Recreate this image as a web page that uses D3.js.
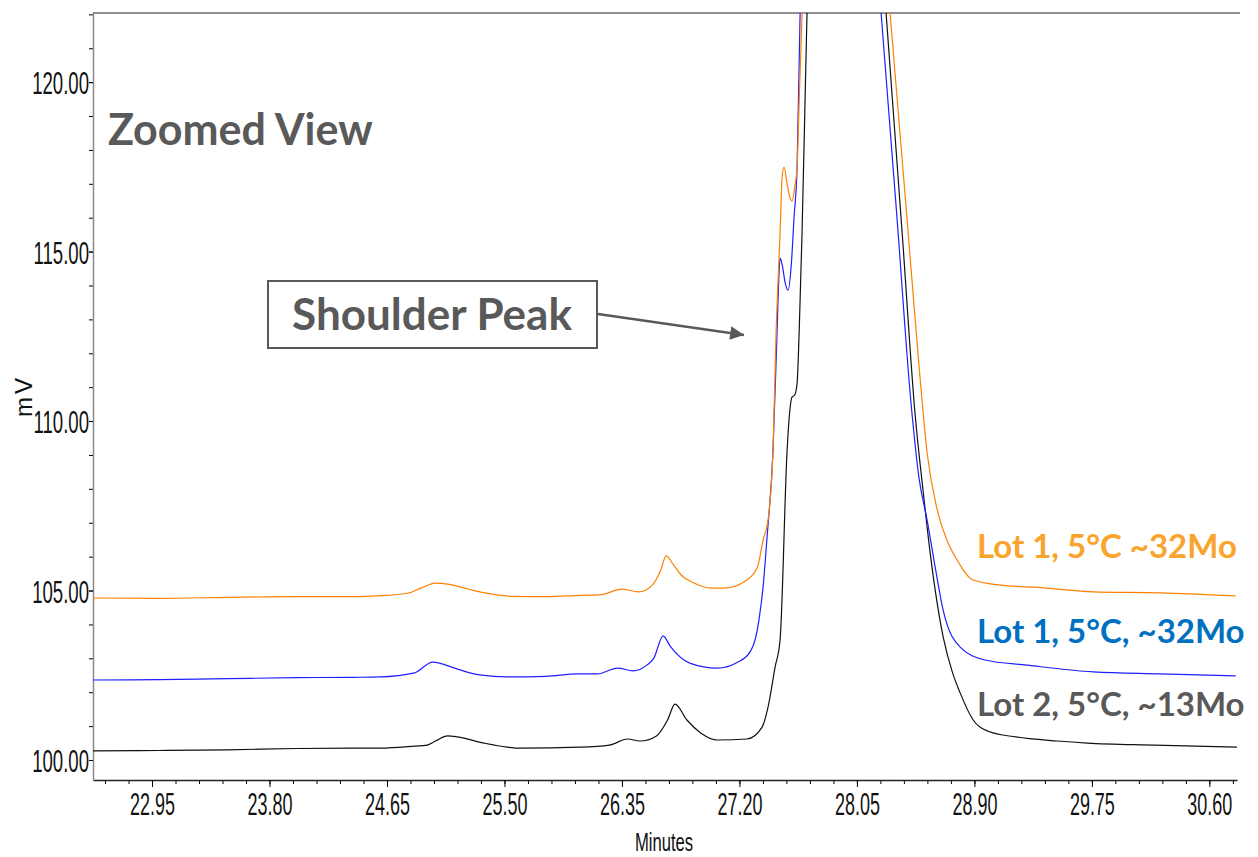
<!DOCTYPE html>
<html>
<head>
  <meta charset="UTF-8">
  <title>Zoomed View</title>
  <style>
    body { margin: 0; background: #fff; }
    svg { display: block; }
    .tick text { font-family: "Liberation Sans", Arial, sans-serif; }
  </style>
</head>
<body>
  <div class="svg-zone"></div>
  <script src="https://cdn.jsdelivr.net/npm/d3@7/dist/d3.min.js"></script>
  <script type="text/javascript">
  // time (min), signal (mV); main peak runs off scale
  var lot1Orange = [
    [22.52, 104.78], [23.00, 104.77], [23.50, 104.80], [24.00, 104.82], [24.40, 104.82],
    [24.60, 104.85], [24.80, 104.92], [24.90, 105.08], [25.00, 105.22], [25.10, 105.18],
    [25.25, 105.03], [25.40, 104.90], [25.55, 104.83], [25.80, 104.82], [26.05, 104.86],
    [26.20, 104.88], [26.35, 105.04], [26.47, 104.96], [26.57, 105.16], [26.63, 105.60],
    [26.67, 106.02], [26.72, 105.78], [26.78, 105.45], [26.87, 105.22], [27.00, 105.07],
    [27.11, 105.08], [27.23, 105.25], [27.33, 105.69], [27.371, 106.49], [27.407, 107.08],
    [27.443, 109.14], [27.465, 112.60], [27.494, 115.55], [27.509, 117.20], [27.523, 117.49],
    [27.545, 117.00], [27.565, 116.60], [27.581, 116.49], [27.60, 116.90], [27.617, 117.49],
    [27.635, 119.80], [27.653, 122.04], [27.68, 127], [27.75, 133], [27.95, 140],
    [28.15, 129.0], [28.29, 122.04], [28.41, 116.10], [28.50, 111.60], [28.56, 109.00],
    [28.63, 107.40], [28.70, 106.50], [28.775, 105.90], [28.89, 105.31],
    [29.09, 105.16], [29.33, 105.10], [29.76, 104.96], [30.24, 104.93], [30.79, 104.84]
  ];
  var lot1Blue = [
    [22.52, 102.36], [23.00, 102.37], [23.50, 102.40], [24.00, 102.43], [24.40, 102.44],
    [24.60, 102.45], [24.85, 102.57], [24.98, 102.89], [25.16, 102.68], [25.32, 102.51],
    [25.52, 102.45], [25.80, 102.47], [26.03, 102.54], [26.17, 102.54], [26.32, 102.71],
    [26.43, 102.63], [26.53, 102.80], [26.58, 103.00], [26.648, 103.66], [26.70, 103.35],
    [26.84, 102.86], [27.04, 102.71], [27.19, 102.89], [27.277, 103.19], [27.313, 103.54],
    [27.34, 104.10], [27.371, 105.10], [27.40, 106.58], [27.443, 109.14], [27.472, 112.60],
    [27.487, 114.40], [27.494, 114.81], [27.51, 114.60], [27.53, 114.10], [27.552, 113.86],
    [27.575, 114.60], [27.595, 116.00], [27.617, 117.49], [27.639, 122.04], [27.67, 127],
    [27.75, 133], [27.92, 140], [28.10, 128.7], [28.225, 122.04], [28.34, 116.00],
    [28.44, 110.60], [28.50, 108.30], [28.558, 107.08], [28.62, 105.60],
    [28.674, 104.42], [28.797, 103.33], [28.977, 102.95], [29.281, 102.80], [29.759, 102.60],
    [30.244, 102.54], [30.79, 102.48]
  ];
  var lot2Black = [
    [22.52, 100.27], [23.00, 100.28], [23.50, 100.30], [24.00, 100.34], [24.40, 100.35],
    [24.60, 100.35], [24.85, 100.41], [24.94, 100.44], [25.00, 100.56], [25.09, 100.71],
    [25.16, 100.68], [25.35, 100.50], [25.52, 100.38], [25.61, 100.35], [26.05, 100.38],
    [26.26, 100.44], [26.39, 100.62], [26.48, 100.56], [26.60, 100.71], [26.68, 101.18],
    [26.734, 101.65], [26.82, 101.18], [26.92, 100.80], [27.04, 100.59], [27.255, 100.62],
    [27.364, 100.97], [27.407, 101.56], [27.458, 102.74], [27.494, 103.54], [27.545, 109.14],
    [27.56, 110.10], [27.581, 110.71], [27.60, 110.77], [27.617, 111.10], [27.632, 112.60],
    [27.653, 115.55], [27.675, 119.50], [27.689, 122.04], [27.72, 127], [27.80, 133],
    [27.97, 140], [28.14, 128.9], [28.261, 122.04], [28.38, 115.40],
    [28.471, 110.20], [28.53, 107.90], [28.58, 106.11], [28.674, 103.63],
    [28.74, 102.60], [28.797, 101.98], [28.891, 101.18], [29.00, 100.85], [29.20, 100.68],
    [29.50, 100.56], [29.716, 100.50], [30.20, 100.44], [30.80, 100.38]
  ];

  var seriesNames = ["Lot 1, 5°C ~32Mo", "Lot 1, 5°C, ~32Mo", "Lot 2, 5°C, ~13Mo"];
  var xTickValues = [22.95, 23.80, 24.65, 25.50, 26.35, 27.20, 28.05, 28.90, 29.75, 30.60];
  var yTickValues = [100, 105, 110, 115, 120];

  var width = 1258, height = 857;
  // plot box (window.top is reserved, so no bare "top")
  var plotLeft = 93, plotRight = 1237, plotTop = 13, plotBottom = 780;

  var svg = d3.select(".svg-zone").append("svg")
    .attr("width", width)
    .attr("height", height);

  var x = d3.scaleLinear().domain([22.523, 30.80]).range([plotLeft, plotRight]);
  var y = d3.scaleLinear().domain([99.41, 122.04]).range([plotBottom, plotTop]);

  svg.append("clipPath").attr("id", "plot-clip")
    .append("rect")
    .attr("x", plotLeft).attr("y", plotTop)
    .attr("width", plotRight - plotLeft).attr("height", plotBottom - plotTop);

  // narrow labels like the instrument software
  var squeeze = 0.58;

  // minor ticks first
  svg.append("g")
    .attr("transform", "translate(0," + plotBottom + ")")
    .call(d3.axisBottom(x).tickValues(d3.range(22.61, 30.80, 0.17)).tickSize(4).tickFormat("").tickSizeOuter(0))
    .call(g => g.select(".domain").remove());
  svg.append("g")
    .attr("transform", "translate(" + plotLeft + ",0)")
    .call(d3.axisLeft(y).tickValues(d3.range(100, 123, 1)).tickSize(4).tickFormat("").tickSizeOuter(0))
    .call(g => g.select(".domain").remove());

  // x axis
  var xAxis = svg.append("g")
    .attr("transform", "translate(0," + plotBottom + ")")
    .call(d3.axisBottom(x).tickValues(xTickValues).tickSize(7).tickPadding(6)
      .tickFormat(d3.format(".2f")).tickSizeOuter(0));
  xAxis.select(".domain").attr("stroke", "#222").attr("stroke-width", 1.3);
  xAxis.selectAll("text")
    .attr("font-size", 31)
    .attr("fill", "#111")
    .attr("transform", "scale(" + squeeze + ",1)");

  // y axis
  var yAxis = svg.append("g")
    .attr("transform", "translate(" + plotLeft + ",0)")
    .call(d3.axisLeft(y).tickValues(yTickValues).tickSize(4).tickPadding(1)
      .tickFormat(d3.format(".2f")).tickSizeOuter(0));
  yAxis.select(".domain").attr("stroke", "#8a8a8a").attr("stroke-width", 1.5);
  yAxis.selectAll("text")
    .attr("font-size", 31)
    .attr("fill", "#111")
    .attr("x", -4 / 0.6)
    .attr("dy", "0.38em")
    .attr("transform", "scale(0.6,1)");

  // top frame line
  svg.append("line")
    .attr("x1", plotLeft).attr("x2", 1240)
    .attr("y1", plotTop).attr("y2", plotTop)
    .attr("stroke", "#222").attr("stroke-width", 1.2);

  // axis titles
  svg.append("text")
    .attr("transform", "translate(664,851) scale(0.64,1)")
    .attr("text-anchor", "middle")
    .attr("font-family", "Liberation Sans, Arial, sans-serif")
    .attr("font-size", 26)
    .attr("fill", "#111")
    .text("Minutes");
  svg.append("text")
    .attr("transform", "translate(32,396) rotate(-90)")
    .attr("text-anchor", "middle")
    .attr("font-family", "Liberation Sans, Arial, sans-serif")
    .attr("font-size", 24)
    .attr("letter-spacing", 3)
    .attr("fill", "#111")
    .text("mV");

  // traces
  var line = d3.line()
    .x(function (d) { return x(d[0]); })
    .y(function (d) { return y(d[1]); })
    .curve(d3.curveMonotoneX);

  var traces = [
    { data: lot2Black, color: "#111111" },
    { data: lot1Blue, color: "#1f1fff" },
    { data: lot1Orange, color: "#ff8000" }
  ];
  svg.append("g")
    .attr("clip-path", "url(#plot-clip)")
    .selectAll("path")
    .data(traces)
    .enter().append("path")
    .attr("d", function (d) { return line(d.data); })
    .attr("fill", "none")
    .attr("stroke", function (d) { return d.color; })
    .attr("stroke-width", 1.2);

  // annotations
  var labelFont = "Lato, 'Open Sans', sans-serif";
  svg.append("text")
    .attr("x", 108).attr("y", 145)
    .attr("font-family", labelFont)
    .attr("font-weight", "bold")
    .attr("font-size", 43)
    .attr("fill", "#595959")
    .text("Zoomed View");

  svg.append("rect")
    .attr("x", 268).attr("y", 281)
    .attr("width", 329).attr("height", 67)
    .attr("fill", "#fff")
    .attr("stroke", "#595959")
    .attr("stroke-width", 2);
  svg.append("text")
    .attr("x", 432).attr("y", 330)
    .attr("text-anchor", "middle")
    .attr("font-family", labelFont)
    .attr("font-weight", "bold")
    .attr("font-size", 44)
    .attr("fill", "#595959")
    .text("Shoulder Peak");

  svg.append("defs").append("marker")
    .attr("id", "arrow")
    .attr("viewBox", "0 0 10 10")
    .attr("refX", 10).attr("refY", 5)
    .attr("markerWidth", 6.5).attr("markerHeight", 6)
    .attr("markerUnits", "strokeWidth")
    .attr("orient", "auto")
    .append("path")
    .attr("d", "M0,0 L10,5 L0,10 Z")
    .attr("fill", "#595959");
  svg.append("line")
    .attr("x1", 598).attr("y1", 314)
    .attr("x2", 744).attr("y2", 335)
    .attr("stroke", "#595959")
    .attr("stroke-width", 2.3)
    .attr("marker-end", "url(#arrow)");

  var labelColors = ["#f9a42c", "#0070c0", "#595959"];
  var labelY = [558, 643, 716];
  svg.selectAll(".series-label")
    .data(seriesNames)
    .enter().append("text")
    .attr("class", "series-label")
    .attr("x", 977)
    .attr("y", function (d, i) { return labelY[i]; })
    .attr("font-family", labelFont)
    .attr("font-weight", "bold")
    .attr("font-size", 33)
    .attr("fill", function (d, i) { return labelColors[i]; })
    .text(function (d) { return d; });
  </script>
</body>
</html>
